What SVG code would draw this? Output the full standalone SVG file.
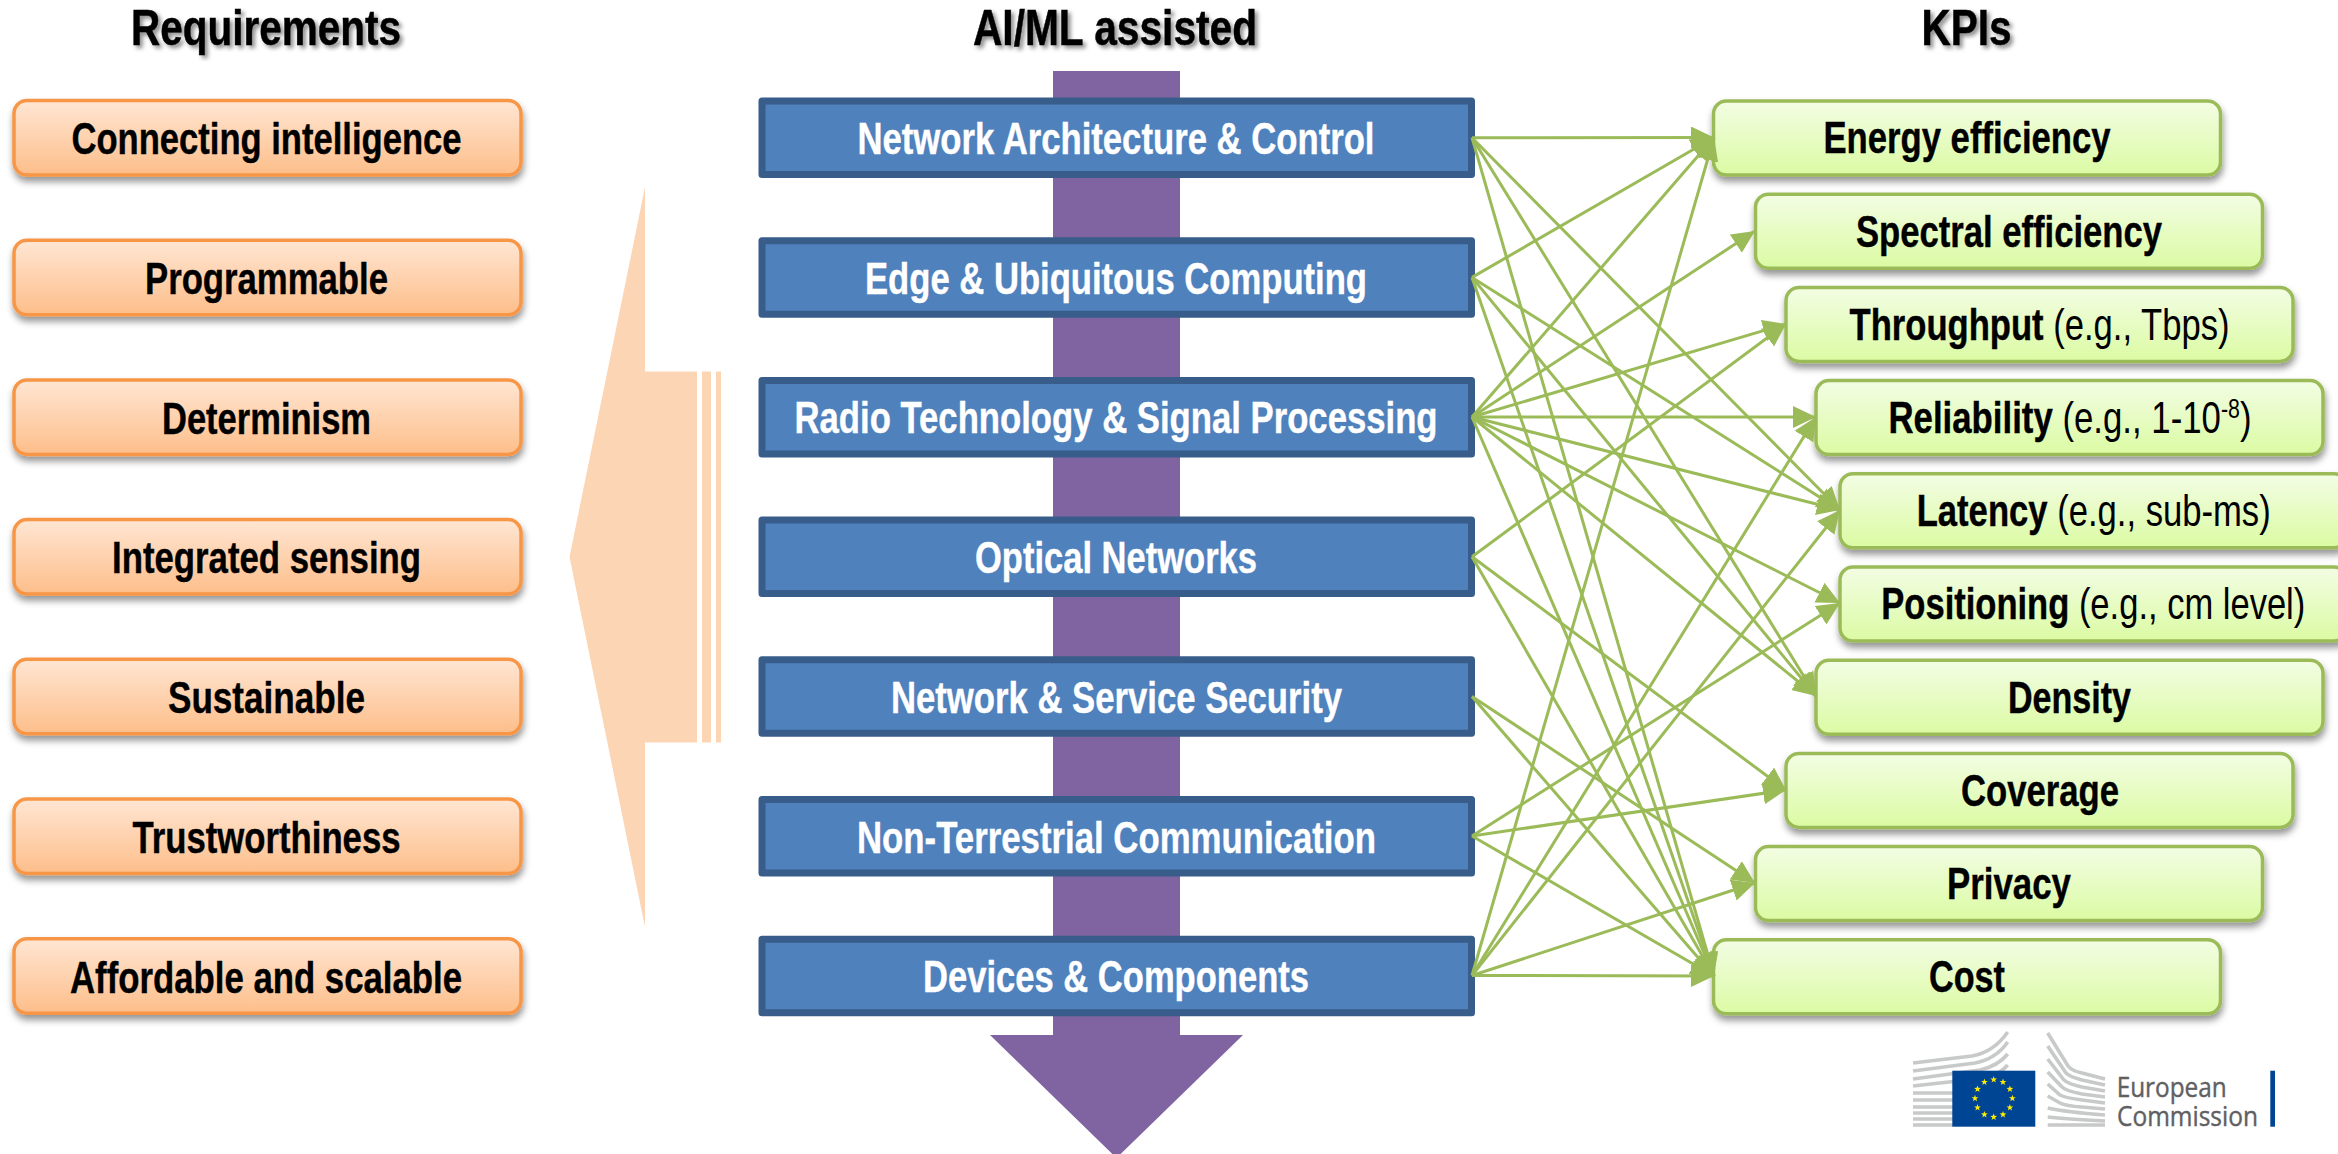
<svg xmlns="http://www.w3.org/2000/svg" xmlns:xlink="http://www.w3.org/1999/xlink" width="2338" height="1154" viewBox="0 0 2338 1154">
<style>
text{font-family:"Liberation Sans",Arial,sans-serif}
.t{font-size:50px;font-weight:bold;fill:#000;stroke:#000;stroke-width:.5;text-anchor:middle;filter:url(#ts)}
.l{font-size:44px;font-weight:bold;fill:#000;stroke:#000;stroke-width:.4;text-anchor:middle}
.b{font-size:44px;font-weight:bold;fill:#fff;stroke:#fff;stroke-width:.4;text-anchor:middle}
.r{font-weight:normal;stroke-width:0}
.or{fill:url(#og);stroke:#F79646;stroke-width:3.5;filter:url(#sh)}
.gr{fill:url(#gg);stroke:#9BBB59;stroke-width:3.5;filter:url(#sh)}
.bl{fill:#4F81BD;stroke:#385D8A;stroke-width:7;stroke-linejoin:round}
#connectors line{stroke:#9BBB59;stroke-width:3;marker-end:url(#ah)}
.bld{fill:none;stroke:#C8C9C9;stroke-width:3.6}
.ec{font-family:"Open Sans","Noto Sans",sans-serif;font-size:27px;fill:#5F6062;stroke:#5F6062;stroke-width:.4}
</style>
<defs>
<linearGradient id="og" x1="0" y1="0" x2="0" y2="1"><stop offset="0" stop-color="#FFE6D3"/><stop offset="1" stop-color="#FDBE8A"/></linearGradient>
<linearGradient id="gg" x1="0" y1="0" x2="0" y2="1"><stop offset="0" stop-color="#F3FDE4"/><stop offset="1" stop-color="#DBFBA3"/></linearGradient>
<filter id="sh" x="-5%" y="-20%" width="110%" height="150%"><feDropShadow dx="1" dy="5" stdDeviation="3.5" flood-color="#000" flood-opacity=".42"/></filter>
<filter id="ts" x="-10%" y="-20%" width="120%" height="150%"><feDropShadow dx="3" dy="3" stdDeviation="2.2" flood-color="#000" flood-opacity=".45"/></filter>
<marker id="ah" markerUnits="userSpaceOnUse" markerWidth="25" markerHeight="23" refX="23" refY="11" orient="auto"><path d="M0 0L23 11L0 22z" fill="#9BBB59"/></marker>
<polygon id="st" points="0,-3.6 .85,-1.17 3.42,-1.11 1.37,.45 2.12,2.91 0,1.44 -2.12,2.91 -1.37,.45 -3.42,-1.11 -.85,-1.17" fill="#FFED00"/>
</defs>
<rect width="2338" height="1154" fill="#fff"/>
<g id="left-arrow" fill="#FCD5B5">
<polygon points="569.5,557 645,187 645,371.5 697,371.5 697,742.5 645,742.5 645,927"/>
<rect x="702" y="371.5" width="9" height="371"/>
<rect x="716" y="371.5" width="5" height="371"/>
</g>
<polygon id="down-arrow" fill="#8064A2" points="1053,71 1180,71 1180,1035 1243,1035 1116.5,1158 990,1035 1053,1035"/>
<g id="titles">
<text class="t" x="266" y="45" textLength="270" lengthAdjust="spacingAndGlyphs">Requirements</text>
<text class="t" x="1115" y="45" textLength="284" lengthAdjust="spacingAndGlyphs">AI/ML assisted</text>
<text class="t" x="1966.5" y="45" textLength="90" lengthAdjust="spacingAndGlyphs">KPIs</text>
</g>
<g id="req-1"><rect class="or" x="14" y="100.5" width="507" height="74.5" rx="13"/><text class="l" x="266.5" y="154.3" textLength="390" lengthAdjust="spacingAndGlyphs">Connecting intelligence</text></g>
<g id="req-2"><rect class="or" x="14" y="240.2" width="507" height="74.5" rx="13"/><text class="l" x="266.5" y="294" textLength="243" lengthAdjust="spacingAndGlyphs">Programmable</text></g>
<g id="req-3"><rect class="or" x="14" y="379.9" width="507" height="74.5" rx="13"/><text class="l" x="266.5" y="433.7" textLength="209" lengthAdjust="spacingAndGlyphs">Determinism</text></g>
<g id="req-4"><rect class="or" x="14" y="519.6" width="507" height="74.5" rx="13"/><text class="l" x="266.5" y="573.4" textLength="309" lengthAdjust="spacingAndGlyphs">Integrated sensing</text></g>
<g id="req-5"><rect class="or" x="14" y="659.3" width="507" height="74.5" rx="13"/><text class="l" x="266.5" y="713.1" textLength="197" lengthAdjust="spacingAndGlyphs">Sustainable</text></g>
<g id="req-6"><rect class="or" x="14" y="799" width="507" height="74.5" rx="13"/><text class="l" x="266.5" y="852.8" textLength="268" lengthAdjust="spacingAndGlyphs">Trustworthiness</text></g>
<g id="req-7"><rect class="or" x="14" y="938.7" width="507" height="74.5" rx="13"/><text class="l" x="266" y="992.5" textLength="392" lengthAdjust="spacingAndGlyphs">Affordable and scalable</text></g>
<g id="ai-1"><rect class="bl" x="762" y="101" width="709.5" height="73.5"/><text class="b" x="1116" y="154" textLength="517" lengthAdjust="spacingAndGlyphs">Network Architecture &amp; Control</text></g>
<g id="ai-2"><rect class="bl" x="762" y="240.7" width="709.5" height="73.5"/><text class="b" x="1116" y="293.7" textLength="502" lengthAdjust="spacingAndGlyphs">Edge &amp; Ubiquitous Computing</text></g>
<g id="ai-3"><rect class="bl" x="762" y="380.4" width="709.5" height="73.5"/><text class="b" x="1116" y="433.4" textLength="643" lengthAdjust="spacingAndGlyphs">Radio Technology &amp; Signal Processing</text></g>
<g id="ai-4"><rect class="bl" x="762" y="520.1" width="709.5" height="73.5"/><text class="b" x="1116" y="573.1" textLength="282" lengthAdjust="spacingAndGlyphs">Optical Networks</text></g>
<g id="ai-5"><rect class="bl" x="762" y="659.8" width="709.5" height="73.5"/><text class="b" x="1116.5" y="712.8" textLength="451" lengthAdjust="spacingAndGlyphs">Network &amp; Service Security</text></g>
<g id="ai-6"><rect class="bl" x="762" y="799.5" width="709.5" height="73.5"/><text class="b" x="1116.5" y="852.5" textLength="519" lengthAdjust="spacingAndGlyphs">Non-Terrestrial Communication</text></g>
<g id="ai-7"><rect class="bl" x="762" y="939.2" width="709.5" height="73.5"/><text class="b" x="1116" y="992.2" textLength="386" lengthAdjust="spacingAndGlyphs">Devices &amp; Components</text></g>
<g id="kpi-energy"><rect class="gr" x="1713.5" y="101" width="507" height="74" rx="13"/><text class="l" x="1967" y="153.3" textLength="287" lengthAdjust="spacingAndGlyphs">Energy efficiency</text></g>
<g id="kpi-spectral"><rect class="gr" x="1755.5" y="194.2" width="507" height="74" rx="13"/><text class="l" x="2009" y="246.5" textLength="306" lengthAdjust="spacingAndGlyphs">Spectral efficiency</text></g>
<g id="kpi-throughput"><rect class="gr" x="1786" y="287.4" width="507" height="74" rx="13"/><text class="l" x="2039.5" y="339.7" textLength="380" lengthAdjust="spacingAndGlyphs">Throughput <tspan class="r">(e.g., Tbps)</tspan></text></g>
<g id="kpi-reliability"><rect class="gr" x="1816" y="380.6" width="507" height="74" rx="13"/><text class="l" x="2070" y="432.9" textLength="363" lengthAdjust="spacingAndGlyphs">Reliability <tspan class="r">(e.g., 1-10<tspan font-size="27" dy="-15">-8</tspan><tspan dy="15">)</tspan></tspan></text></g>
<g id="kpi-latency"><rect class="gr" x="1840" y="473.8" width="507" height="74" rx="13"/><text class="l" x="2093.7" y="526.1" textLength="354" lengthAdjust="spacingAndGlyphs">Latency <tspan class="r">(e.g., sub-ms)</tspan></text></g>
<g id="kpi-positioning"><rect class="gr" x="1840" y="567" width="507" height="74" rx="13"/><text class="l" x="2093.3" y="619.3" textLength="424" lengthAdjust="spacingAndGlyphs">Positioning <tspan class="r">(e.g., cm level)</tspan></text></g>
<g id="kpi-density"><rect class="gr" x="1816" y="660.2" width="507" height="74" rx="13"/><text class="l" x="2069.5" y="712.5" textLength="123" lengthAdjust="spacingAndGlyphs">Density</text></g>
<g id="kpi-coverage"><rect class="gr" x="1786" y="753.4" width="507" height="74" rx="13"/><text class="l" x="2040" y="805.7" textLength="158" lengthAdjust="spacingAndGlyphs">Coverage</text></g>
<g id="kpi-privacy"><rect class="gr" x="1755.5" y="846.6" width="507" height="74" rx="13"/><text class="l" x="2009" y="898.9" textLength="124" lengthAdjust="spacingAndGlyphs">Privacy</text></g>
<g id="kpi-cost"><rect class="gr" x="1713.5" y="939.8" width="507" height="74" rx="13"/><text class="l" x="1967" y="992.1" textLength="76" lengthAdjust="spacingAndGlyphs">Cost</text></g>
<g id="connectors">
<line x1="1472" y1="137.7" x2="1714" y2="137.5"/><line x1="1472" y1="137.7" x2="1840" y2="510"/><line x1="1472" y1="137.7" x2="1816" y2="696"/><line x1="1472" y1="137.7" x2="1714" y2="976"/>
<line x1="1472" y1="277.4" x2="1714" y2="137.5"/><line x1="1472" y1="277.4" x2="1840" y2="510"/><line x1="1472" y1="277.4" x2="1816" y2="696"/><line x1="1472" y1="277.4" x2="1714" y2="976"/>
<line x1="1472" y1="417" x2="1714" y2="137.5"/><line x1="1472" y1="417" x2="1755" y2="231"/><line x1="1472" y1="417" x2="1786" y2="324"/><line x1="1472" y1="417" x2="1816" y2="417"/><line x1="1472" y1="417" x2="1840" y2="510"/><line x1="1472" y1="417" x2="1840" y2="603"/><line x1="1472" y1="417" x2="1816" y2="696"/><line x1="1472" y1="417" x2="1714" y2="976"/>
<line x1="1472" y1="556.8" x2="1786" y2="324"/><line x1="1472" y1="556.8" x2="1786" y2="790"/><line x1="1472" y1="556.8" x2="1714" y2="976"/>
<line x1="1472" y1="696.5" x2="1755" y2="883"/><line x1="1472" y1="696.5" x2="1714" y2="976"/>
<line x1="1472" y1="836" x2="1840" y2="603"/><line x1="1472" y1="836" x2="1786" y2="790"/><line x1="1472" y1="836" x2="1714" y2="976"/>
<line x1="1472" y1="975.5" x2="1714" y2="137.5"/><line x1="1472" y1="975.5" x2="1816" y2="417"/><line x1="1472" y1="975.5" x2="1840" y2="510"/><line x1="1472" y1="975.5" x2="1755" y2="883"/><line x1="1472" y1="975.5" x2="1714" y2="976"/>
</g>
<g id="logo">
<g class="bld">
<path d="M1913 1063L1972 1056Q1994 1052 2007.7 1032"/>
<path d="M1913 1071L1975 1063Q1996 1059 2007.7 1042"/>
<path d="M1913 1079L1980 1070Q1998 1066 2007.7 1054"/>
<path d="M1913 1086L1985 1078Q2000 1074 2007.7 1065"/>
<path d="M1913 1093H1953M1913 1100H1953M1913 1107H1953M1913 1113H1953M1913 1119H1953M1913 1125H1953"/>
<path d="M2047.7 1033L2068 1066Q2072 1071 2082 1073L2105 1079"/>
<path d="M2047.7 1046L2066 1073Q2070 1077 2082 1080L2105 1085"/>
<path d="M2047.7 1059L2064 1080Q2068 1084 2082 1087L2105 1091"/>
<path d="M2047.7 1072L2062 1087Q2066 1091 2082 1094L2105 1097"/>
<path d="M2047.7 1084L2060 1095Q2066 1098 2082 1100L2105 1103"/>
<path d="M2047.7 1096L2060 1103Q2066 1106 2082 1107L2105 1109"/>
<path d="M2047.7 1108Q2066 1112 2105 1115"/>
<path d="M2047.7 1117Q2066 1119 2105 1121"/>
<path d="M2047.7 1125H2105"/>
</g>
<rect x="1952.3" y="1070.7" width="83" height="56" fill="#004494"/>
<use xlink:href="#st" href="#st" x="1993.7" y="1079.6"/><use xlink:href="#st" href="#st" x="2003" y="1082.1"/><use xlink:href="#st" href="#st" x="2009.9" y="1089"/><use xlink:href="#st" href="#st" x="2012.4" y="1098.3"/><use xlink:href="#st" href="#st" x="2009.9" y="1107.6"/><use xlink:href="#st" href="#st" x="2003" y="1114.5"/><use xlink:href="#st" href="#st" x="1993.7" y="1117"/><use xlink:href="#st" href="#st" x="1984.4" y="1114.5"/><use xlink:href="#st" href="#st" x="1977.5" y="1107.6"/><use xlink:href="#st" href="#st" x="1975" y="1098.3"/><use xlink:href="#st" href="#st" x="1977.5" y="1089"/><use xlink:href="#st" href="#st" x="1984.4" y="1082.1"/>
<text class="ec" x="2116.7" y="1097.3" textLength="110" lengthAdjust="spacingAndGlyphs">European</text>
<text class="ec" x="2117" y="1125.7" textLength="141" lengthAdjust="spacingAndGlyphs">Commission</text>
<rect x="2270.3" y="1070.7" width="4.7" height="56" fill="#004494"/>
</g>
</svg>
